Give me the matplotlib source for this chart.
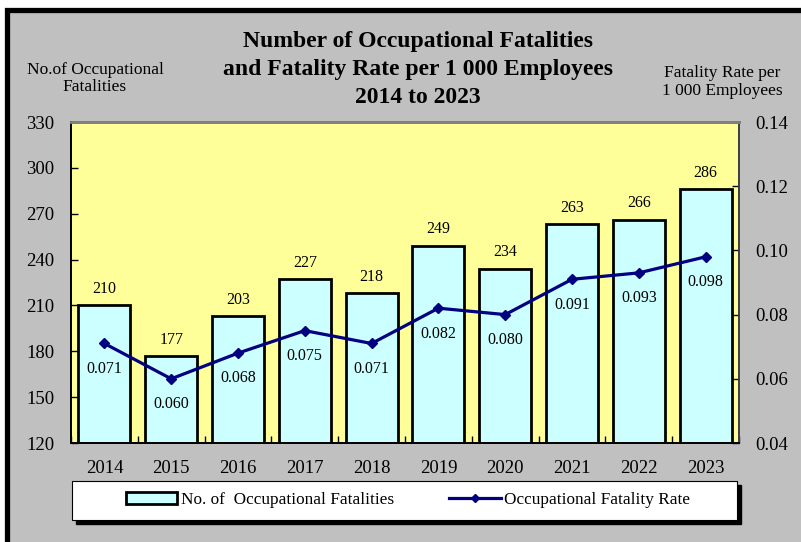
import numpy as np
import matplotlib
matplotlib.use("Agg")
import matplotlib.pyplot as plt
from matplotlib.patches import Rectangle, Patch
from matplotlib.lines import Line2D

plt.rcParams['font.family'] = ['Liberation Serif', 'DejaVu Serif']

# data
years = ['2014', '2015', '2016', '2017', '2018', '2019', '2020', '2021', '2022', '2023']
fatalities = [210, 177, 203, 227, 218, 249, 234, 263, 266, 286]
rates = [0.071, 0.060, 0.068, 0.075, 0.071, 0.082, 0.080, 0.091, 0.093, 0.098]
left_ticks = [120, 150, 180, 210, 240, 270, 300, 330]
right_ticks = [0.04, 0.06, 0.08, 0.10, 0.12, 0.14]

W, H = 801, 542
fig = plt.figure(figsize=(W / 100, H / 100), dpi=100, facecolor='white')

def fx(px):
    return px / W

def fy(py):  # py measured from top
    return 1 - py / H

# grey panel with black border on top/left (bottom/right edges off the picture)
fig.patches.append(Rectangle((fx(6.5), -0.1), 1.2, fy(9.5) + 0.1, transform=fig.transFigure,
                             facecolor='#c0c0c0', edgecolor='black', linewidth=3.8, zorder=-10))

ax = fig.add_axes([fx(71), fy(443), fx(668), 321 / H])
ax.set_facecolor('#ffff99')
x = np.arange(len(years))
ax.bar(x, fatalities, width=0.78, color='#ccffff', edgecolor='black', linewidth=2, zorder=2)
ax.set_ylim(120, 330)
ax.set_xlim(-0.5, len(years) - 0.5)
ax.set_yticks(left_ticks)
ax.set_xticks(x)
ax.set_xticklabels(years)
ax.set_xticks(np.arange(len(years) + 1) - 0.5, minor=True)
ax.tick_params(axis='x', which='major', length=0, labelsize=13.5, pad=12.5)
ax.tick_params(axis='x', which='minor', direction='in', length=5, width=1)
ax.tick_params(axis='y', direction='in', length=5, width=1, labelsize=13.5, pad=12)

for xi, v in zip(x, fatalities):
    ax.annotate(str(v), (xi, v), xytext=(0, 6), textcoords='offset points',
                ha='center', va='bottom', fontsize=11.5)

ax2 = ax.twinx()
ax2.plot(x, rates, color='#000080', linewidth=2.3, marker='D', markersize=5, zorder=3)
ax2.set_ylim(0.04, 0.14)
ax2.set_yticks(right_ticks)
ax2.set_yticklabels([f'{t:.2f}' for t in right_ticks])
ax2.tick_params(axis='y', direction='in', length=5, width=1, labelsize=13.5, pad=12)

for xi, r in zip(x, rates):
    ax2.annotate(f'{r:.3f}', (xi, r), xytext=(0, -12.5), textcoords='offset points',
                 ha='center', va='top', fontsize=11.5)

for a in (ax, ax2):
    a.spines['top'].set_color('#808080')
    a.spines['top'].set_linewidth(2)
    a.spines['left'].set_linewidth(1.3)
    a.spines['bottom'].set_linewidth(1.3)
    a.spines['right'].set_color('#404040')
    a.spines['right'].set_linewidth(1.3)

# titles
fig.text(fx(418), fy(69.5), 'Number of Occupational Fatalities\nand Fatality Rate per 1 000 Employees\n2014 to 2023',
         ha='center', va='center', fontsize=17, fontweight='bold', linespacing=1.43)
fig.text(fx(95), fy(78.5), 'No.of Occupational\nFatalities', ha='center', va='center',
         fontsize=12.5, linespacing=1.12)
fig.text(fx(722), fy(82), 'Fatality Rate per\n1 000 Employees', ha='center', va='center',
         fontsize=12.5, linespacing=1.12)

# legend box with shadow
fig.patches.append(Rectangle((fx(76), fy(524)), fx(665), 39 / H, transform=fig.transFigure,
                             facecolor='black', edgecolor='black', zorder=4))
fig.patches.append(Rectangle((fx(72), fy(520)), fx(665), 39 / H, transform=fig.transFigure,
                             facecolor='white', edgecolor='black', linewidth=0.8, zorder=4))
handles = [Patch(facecolor='#ccffff', edgecolor='black', linewidth=2),
           Line2D([], [], color='#000080', linewidth=2.3, marker='D', markersize=4)]
fig.legend(handles, ['No. of  Occupational Fatalities', 'Occupational Fatality Rate'],
           loc='center', bbox_to_anchor=(fx(408), fy(500)), ncol=2, frameon=False,
           fontsize=12.4, handlelength=3.0, handletextpad=0.2, columnspacing=3.2)

fig.savefig('out.png', dpi=100, facecolor='white')
